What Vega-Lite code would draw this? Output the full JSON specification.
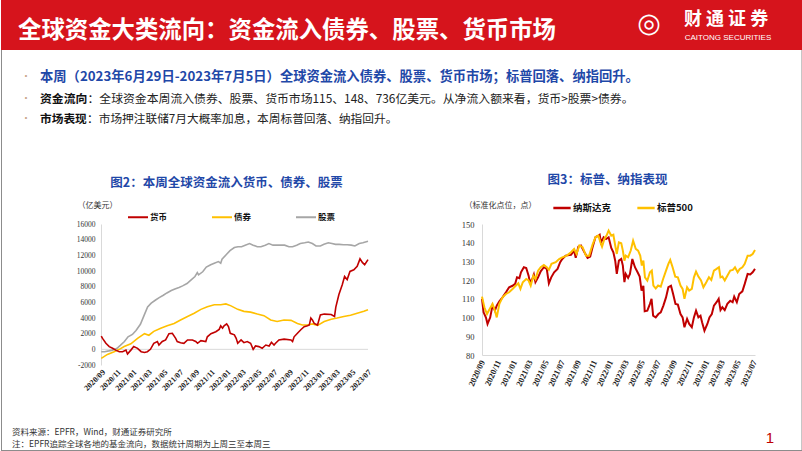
{
  "$schema": "https://vega.github.io/schema/vega-lite/v6.json",
  "padding": 0,
  "spacing": 0,
  "bounds": "flush",
  "align": "each",
  "background": "white",
  "resolve": {"scale": {"color": "independent"}, "legend": {"color": "independent"}},
  "config": {
    "view": {"stroke": null},
    "font": "Noto Sans CJK SC",
    "text": {"font": "Noto Sans CJK SC"}
  },
  "vconcat": [
    {
      "width": 802,
      "height": 50,
      "view": {"fill": "#d6141c", "stroke": null},
      "data": {"values": [{"title": "全球资金大类流向：资金流入债券、股票、货币市场", "icon": "◎", "brand": "财 通 证 券", "en": "CAITONG SECURITIES"}]},
      "layer": [
        {"mark": {"type": "text", "align": "left", "baseline": "middle", "fontSize": 23.4, "fontWeight": "bold", "color": "white"},
         "encoding": {"text": {"field": "title"}, "x": {"value": 17}, "y": {"value": 31}}},
        {"mark": {"type": "text", "align": "center", "baseline": "middle", "fontSize": 27, "font": "DejaVu Sans", "color": "white"},
         "encoding": {"text": {"field": "icon"}, "x": {"value": 648}, "y": {"value": 24}}},
        {"mark": {"type": "text", "align": "center", "baseline": "middle", "fontSize": 18, "fontWeight": "bold", "color": "white"},
         "encoding": {"text": {"field": "brand"}, "x": {"value": 725}, "y": {"value": 20}}},
        {"mark": {"type": "text", "align": "center", "baseline": "middle", "fontSize": 8, "font": "Liberation Sans", "color": "white"},
         "encoding": {"text": {"field": "en"}, "x": {"value": 727}, "y": {"value": 38}}}
      ]
    },
    {
      "width": 802,
      "height": 174,
      "data": {"values": [{
        "b": "•",
        "l1": "本周（2023年6月29日-2023年7月5日）全球资金流入债券、股票、货币市场；标普回落、纳指回升。",
        "l2a": "资金流向",
        "l2b": "：全球资金本周流入债券、股票、货币市场115、148、736亿美元。从净流入额来看，货币>股票>债券。",
        "l3a": "市场表现",
        "l3b": "：市场押注联储7月大概率加息，本周标普回落、纳指回升。"
      }]},
      "layer": [
        {"mark": {"type": "rule", "color": "#8c8c8c", "strokeWidth": 1},
         "encoding": {"x": {"value": 0.5}, "y": {"value": 0}, "y2": {"value": 174}}},
        {"mark": {"type": "rule", "color": "#8c8c8c", "strokeWidth": 1},
         "encoding": {"x": {"value": 801}, "y": {"value": 0}, "y2": {"value": 174}}},
        {"mark": {"type": "text", "align": "center", "baseline": "middle", "fontSize": 10, "color": "#c9a48c"},
         "encoding": {"text": {"field": "b"}, "x": {"value": 25}, "y": {"value": 27}}},
        {"mark": {"type": "text", "align": "center", "baseline": "middle", "fontSize": 10, "color": "#c9a48c"},
         "encoding": {"text": {"field": "b"}, "x": {"value": 25}, "y": {"value": 49}}},
        {"mark": {"type": "text", "align": "center", "baseline": "middle", "fontSize": 10, "color": "#c9a48c"},
         "encoding": {"text": {"field": "b"}, "x": {"value": 25}, "y": {"value": 69}}},
        {"mark": {"type": "text", "align": "left", "baseline": "middle", "fontSize": 13.3, "fontWeight": "bold", "color": "#1f48a8"},
         "encoding": {"text": {"field": "l1"}, "x": {"value": 39}, "y": {"value": 27}}},
        {"mark": {"type": "text", "align": "left", "baseline": "middle", "fontSize": 11.85, "fontWeight": "bold", "color": "#111111"},
         "encoding": {"text": {"field": "l2a"}, "x": {"value": 39}, "y": {"value": 49}}},
        {"mark": {"type": "text", "align": "left", "baseline": "middle", "fontSize": 11.85, "color": "#222222"},
         "encoding": {"text": {"field": "l2b"}, "x": {"value": 86.5}, "y": {"value": 49}}},
        {"mark": {"type": "text", "align": "left", "baseline": "middle", "fontSize": 11.7, "fontWeight": "bold", "color": "#111111"},
         "encoding": {"text": {"field": "l3a"}, "x": {"value": 39}, "y": {"value": 69}}},
        {"mark": {"type": "text", "align": "left", "baseline": "middle", "fontSize": 11.7, "color": "#222222"},
         "encoding": {"text": {"field": "l3b"}, "x": {"value": 86}, "y": {"value": 69}}}
      ]
    },
    {
      "spacing": 0,
      "bounds": "flush",
      "align": "each",
      "resolve": {"scale": {"color": "independent"}, "legend": {"color": "independent"}},
      "hconcat": [
        {
          "width": 100, "height": 141,
          "data": {"values": [{"s1": "资料来源：EPFR，Wind，财通证券研究所", "s2": "注：EPFR追踪全球各地的基金流向，数据统计周期为上周三至本周三"}]},
          "layer": [
            {"mark": {"type": "rule", "color": "#8c8c8c", "strokeWidth": 1},
             "encoding": {"x": {"value": 0.5}, "y": {"value": 0}, "y2": {"value": 226.5}}},
            {"mark": {"type": "rule", "color": "#8c8c8c", "strokeWidth": 1},
             "encoding": {"x": {"value": 0}, "x2": {"value": 802}, "y": {"value": 226.5}}},
            {"mark": {"type": "text", "align": "left", "baseline": "middle", "fontSize": 8.5, "color": "#333333"},
             "encoding": {"text": {"field": "s1"}, "x": {"value": 11}, "y": {"value": 208}}},
            {"mark": {"type": "text", "align": "left", "baseline": "middle", "fontSize": 8.5, "color": "#333333"},
             "encoding": {"text": {"field": "s2"}, "x": {"value": 11}, "y": {"value": 219.5}}}
          ]
        },
        {
          "width": 267,
          "height": 141,
          "title": {"text": "图2：本周全球资金流入货币、债券、股票", "frame": "group", "anchor": "middle", "dx": -8, "offset": 12, "fontSize": 12.5, "fontWeight": "bold", "color": "#1f48a8"},
          "encoding": {
            "y": {"field": "value", "type": "quantitative",
                  "scale": {"domain": [-2000, 16000], "nice": false, "zero": false},
                  "axis": {"values": [-2000, 0, 2000, 4000, 6000, 8000, 10000, 12000, 14000, 16000],
                           "labelExpr": "'' + datum.value", "labelFont": "Liberation Serif", "labelFontSize": 7.5, "labelColor": "#333333",
                           "ticks": false, "grid": false, "domainColor": "#d9d9d9", "labelPadding": 6,
                           "title": "（亿美元）", "titleAngle": 0, "titleX": -4, "titleY": -19, "titleAlign": "center", "titleBaseline": "middle",
                           "titleFontSize": 8, "titleFontWeight": "normal", "titleColor": "#333333"}}
          },
          "layer": [
            {"data": {"values": [{"value": 0}]}, "mark": {"type": "rule", "color": "#d9d9d9", "strokeWidth": 1}},
            {
              "data": {"values": [
{"date":"2020-09-02","series":"股票","value":-300},{"date":"2020-09-15","series":"股票","value":-300},{"date":"2020-10-01","series":"股票","value":-200},{"date":"2020-10-15","series":"股票","value":-100},{"date":"2020-11-01","series":"股票","value":100},{"date":"2020-11-15","series":"股票","value":500},{"date":"2020-12-01","series":"股票","value":1000},{"date":"2020-12-15","series":"股票","value":1600},{"date":"2021-01-01","series":"股票","value":1900},{"date":"2021-01-15","series":"股票","value":2400},{"date":"2021-02-01","series":"股票","value":3200},{"date":"2021-02-15","series":"股票","value":4300},{"date":"2021-03-01","series":"股票","value":5400},{"date":"2021-03-15","series":"股票","value":5900},{"date":"2021-04-01","series":"股票","value":6300},{"date":"2021-04-15","series":"股票","value":6600},{"date":"2021-05-01","series":"股票","value":6900},{"date":"2021-05-15","series":"股票","value":7200},{"date":"2021-06-01","series":"股票","value":7500},{"date":"2021-06-15","series":"股票","value":7700},{"date":"2021-07-01","series":"股票","value":7900},{"date":"2021-07-15","series":"股票","value":8100},{"date":"2021-08-01","series":"股票","value":8400},{"date":"2021-08-15","series":"股票","value":8800},{"date":"2021-09-01","series":"股票","value":9300},{"date":"2021-09-10","series":"股票","value":9800},{"date":"2021-09-15","series":"股票","value":9500},{"date":"2021-10-01","series":"股票","value":9900},{"date":"2021-10-15","series":"股票","value":10500},{"date":"2021-11-01","series":"股票","value":10800},{"date":"2021-11-15","series":"股票","value":11000},{"date":"2021-12-01","series":"股票","value":11200},{"date":"2021-12-10","series":"股票","value":11000},{"date":"2021-12-15","series":"股票","value":11500},{"date":"2022-01-01","series":"股票","value":12100},{"date":"2022-01-15","series":"股票","value":12600},{"date":"2022-02-01","series":"股票","value":13000},{"date":"2022-02-15","series":"股票","value":13100},{"date":"2022-03-01","series":"股票","value":13100},{"date":"2022-03-15","series":"股票","value":13300},{"date":"2022-04-01","series":"股票","value":13500},{"date":"2022-04-15","series":"股票","value":13300},{"date":"2022-05-01","series":"股票","value":13100},{"date":"2022-05-15","series":"股票","value":13100},{"date":"2022-06-01","series":"股票","value":13300},{"date":"2022-06-15","series":"股票","value":13500},{"date":"2022-07-01","series":"股票","value":13300},{"date":"2022-07-15","series":"股票","value":13300},{"date":"2022-08-01","series":"股票","value":13300},{"date":"2022-08-15","series":"股票","value":13300},{"date":"2022-09-01","series":"股票","value":13100},{"date":"2022-09-15","series":"股票","value":13100},{"date":"2022-10-01","series":"股票","value":13300},{"date":"2022-10-15","series":"股票","value":13500},{"date":"2022-11-01","series":"股票","value":13600},{"date":"2022-11-15","series":"股票","value":13700},{"date":"2022-12-01","series":"股票","value":13500},{"date":"2022-12-15","series":"股票","value":13200},{"date":"2023-01-01","series":"股票","value":13200},{"date":"2023-01-15","series":"股票","value":13400},{"date":"2023-02-01","series":"股票","value":13600},{"date":"2023-02-15","series":"股票","value":13500},{"date":"2023-03-01","series":"股票","value":13400},{"date":"2023-03-15","series":"股票","value":13400},{"date":"2023-04-01","series":"股票","value":13350},{"date":"2023-04-15","series":"股票","value":13350},{"date":"2023-05-01","series":"股票","value":13300},{"date":"2023-05-15","series":"股票","value":13200},{"date":"2023-06-01","series":"股票","value":13500},{"date":"2023-06-15","series":"股票","value":13600},{"date":"2023-07-05","series":"股票","value":13800},
{"date":"2020-09-02","series":"债券","value":-1150},{"date":"2020-09-26","series":"债券","value":-650},{"date":"2020-10-22","series":"债券","value":-300},{"date":"2020-11-11","series":"债券","value":0},{"date":"2020-11-30","series":"债券","value":350},{"date":"2020-12-26","series":"债券","value":700},{"date":"2021-01-21","series":"债券","value":1400},{"date":"2021-02-17","series":"债券","value":2000},{"date":"2021-03-06","series":"债券","value":1800},{"date":"2021-03-25","series":"债券","value":2300},{"date":"2021-04-21","series":"债券","value":2700},{"date":"2021-05-16","series":"债券","value":3000},{"date":"2021-06-12","series":"债券","value":3300},{"date":"2021-07-07","series":"债券","value":3750},{"date":"2021-08-03","series":"债券","value":4200},{"date":"2021-08-29","series":"债券","value":4600},{"date":"2021-09-24","series":"债券","value":5100},{"date":"2021-10-19","series":"债券","value":5450},{"date":"2021-11-15","series":"债券","value":5700},{"date":"2021-12-10","series":"债券","value":5700},{"date":"2021-12-30","series":"债券","value":5800},{"date":"2022-01-19","series":"债券","value":5550},{"date":"2022-02-14","series":"债券","value":5100},{"date":"2022-03-10","series":"债券","value":4850},{"date":"2022-04-05","series":"债券","value":4750},{"date":"2022-05-01","series":"债券","value":4500},{"date":"2022-05-27","series":"债券","value":4300},{"date":"2022-06-22","series":"债券","value":3750},{"date":"2022-07-17","series":"债券","value":3550},{"date":"2022-08-13","series":"债券","value":3750},{"date":"2022-09-09","series":"债券","value":3700},{"date":"2022-10-04","series":"债券","value":3300},{"date":"2022-10-23","series":"债券","value":3100},{"date":"2022-11-12","series":"债券","value":3100},{"date":"2022-12-01","series":"债券","value":3250},{"date":"2022-12-21","series":"债券","value":3050},{"date":"2023-01-16","series":"债券","value":3550},{"date":"2023-02-12","series":"债券","value":3850},{"date":"2023-03-07","series":"债券","value":4000},{"date":"2023-04-02","series":"债券","value":4200},{"date":"2023-04-28","series":"债券","value":4350},{"date":"2023-05-24","series":"债券","value":4600},{"date":"2023-06-19","series":"债券","value":4850},{"date":"2023-07-05","series":"债券","value":5050},
{"date":"2020-09-02","series":"货币","value":1700},{"date":"2020-09-07","series":"货币","value":1400},{"date":"2020-09-20","series":"货币","value":770},{"date":"2020-10-03","series":"货币","value":350},{"date":"2020-10-16","series":"货币","value":130},{"date":"2020-10-28","series":"货币","value":-100},{"date":"2020-11-11","series":"货币","value":-300},{"date":"2020-11-24","series":"货币","value":-300},{"date":"2020-12-07","series":"货币","value":-100},{"date":"2020-12-13","series":"货币","value":-600},{"date":"2020-12-26","series":"货币","value":-100},{"date":"2021-01-06","series":"货币","value":350},{"date":"2021-01-21","series":"货币","value":130},{"date":"2021-02-04","series":"货币","value":-300},{"date":"2021-02-17","series":"货币","value":-400},{"date":"2021-02-28","series":"货币","value":-300},{"date":"2021-03-12","series":"货币","value":0},{"date":"2021-03-25","series":"货币","value":770},{"date":"2021-04-08","series":"货币","value":1000},{"date":"2021-04-14","series":"货币","value":550},{"date":"2021-04-27","series":"货币","value":1000},{"date":"2021-05-10","series":"货币","value":1200},{"date":"2021-05-23","series":"货币","value":2000},{"date":"2021-06-05","series":"货币","value":2050},{"date":"2021-06-18","series":"货币","value":1400},{"date":"2021-06-24","series":"货币","value":1000},{"date":"2021-07-07","series":"货币","value":850},{"date":"2021-07-20","series":"货币","value":770},{"date":"2021-08-03","series":"货币","value":1200},{"date":"2021-08-22","series":"货币","value":1200},{"date":"2021-09-04","series":"货币","value":1000},{"date":"2021-09-11","series":"货币","value":770},{"date":"2021-09-24","series":"货币","value":1100},{"date":"2021-10-13","series":"货币","value":1000},{"date":"2021-10-19","series":"货币","value":1600},{"date":"2021-11-02","series":"货币","value":2000},{"date":"2021-11-21","series":"货币","value":2250},{"date":"2021-12-04","series":"货币","value":2550},{"date":"2021-12-10","series":"货币","value":3000},{"date":"2021-12-17","series":"货币","value":2700},{"date":"2021-12-23","series":"货币","value":3000},{"date":"2022-01-02","series":"货币","value":3250},{"date":"2022-01-09","series":"货币","value":2900},{"date":"2022-01-16","series":"货币","value":2050},{"date":"2022-02-01","series":"货币","value":1850},{"date":"2022-02-08","series":"货币","value":1400},{"date":"2022-02-14","series":"货币","value":770},{"date":"2022-02-27","series":"货币","value":1200},{"date":"2022-03-10","series":"货币","value":850},{"date":"2022-03-23","series":"货币","value":1000},{"date":"2022-04-05","series":"货币","value":770},{"date":"2022-04-15","series":"货币","value":0},{"date":"2022-04-24","series":"货币","value":430},{"date":"2022-05-07","series":"货币","value":350},{"date":"2022-05-20","series":"货币","value":130},{"date":"2022-06-03","series":"货币","value":550},{"date":"2022-06-16","series":"货币","value":430},{"date":"2022-06-25","series":"货币","value":900},{"date":"2022-07-05","series":"货币","value":550},{"date":"2022-07-11","series":"货币","value":770},{"date":"2022-07-24","series":"货币","value":1200},{"date":"2022-08-13","series":"货币","value":1300},{"date":"2022-09-09","series":"货币","value":1200},{"date":"2022-09-15","series":"货币","value":1000},{"date":"2022-09-21","series":"货币","value":1600},{"date":"2022-10-04","series":"货币","value":2050},{"date":"2022-10-17","series":"货币","value":2500},{"date":"2022-10-30","series":"货币","value":2900},{"date":"2022-11-12","series":"货币","value":3000},{"date":"2022-11-19","series":"货币","value":3100},{"date":"2022-11-25","series":"货币","value":4000},{"date":"2022-12-01","series":"货币","value":3750},{"date":"2022-12-08","series":"货币","value":3300},{"date":"2022-12-21","series":"货币","value":3100},{"date":"2023-01-01","series":"货币","value":4400},{"date":"2023-01-16","series":"货币","value":4500},{"date":"2023-02-12","series":"货币","value":4450},{"date":"2023-02-25","series":"货币","value":4200},{"date":"2023-03-02","series":"货币","value":5400},{"date":"2023-03-14","series":"货币","value":7000},{"date":"2023-03-27","series":"货币","value":8250},{"date":"2023-04-05","series":"货币","value":9300},{"date":"2023-04-15","series":"货币","value":8900},{"date":"2023-04-26","series":"货币","value":9950},{"date":"2023-05-11","series":"货币","value":10150},{"date":"2023-05-24","series":"货币","value":10600},{"date":"2023-06-04","series":"货币","value":11550},{"date":"2023-06-13","series":"货币","value":11100},{"date":"2023-06-22","series":"货币","value":10800},{"date":"2023-07-05","series":"货币","value":11450}
              ]},
              "encoding": {
                "x": {"field": "date", "type": "temporal",
                      "scale": {"type": "utc", "domain": [{"year": 2020, "month": 9, "date": 1, "utc": true}, {"year": 2023, "month": 7, "date": 5, "utc": true}]},
                      "axis": {"values": [
                        {"year":2020,"month":9,"date":1,"utc":true},{"year":2020,"month":11,"date":1,"utc":true},
                        {"year":2021,"month":1,"date":1,"utc":true},{"year":2021,"month":3,"date":1,"utc":true},{"year":2021,"month":5,"date":1,"utc":true},{"year":2021,"month":7,"date":1,"utc":true},{"year":2021,"month":9,"date":1,"utc":true},{"year":2021,"month":11,"date":1,"utc":true},
                        {"year":2022,"month":1,"date":1,"utc":true},{"year":2022,"month":3,"date":1,"utc":true},{"year":2022,"month":5,"date":1,"utc":true},{"year":2022,"month":7,"date":1,"utc":true},{"year":2022,"month":9,"date":1,"utc":true},{"year":2022,"month":11,"date":1,"utc":true},
                        {"year":2023,"month":1,"date":1,"utc":true},{"year":2023,"month":3,"date":1,"utc":true},{"year":2023,"month":5,"date":1,"utc":true},{"year":2023,"month":7,"date":1,"utc":true}],
                        "format": "%Y/%m", "labelAngle": -45, "labelFont": "Liberation Serif", "labelFontWeight": "bold", "labelFontSize": 8, "labelColor": "#222222",
                        "labelOverlap": false, "ticks": false, "domain": false, "grid": false, "labelPadding": 3, "title": null}},
                "color": {"field": "series", "type": "nominal",
                          "scale": {"domain": ["货币", "债券", "股票"], "range": ["#c00000", "#ffc000", "#a6a6a6"]},
                          "legend": {"orient": "none", "legendX": 26, "legendY": -18, "direction": "horizontal", "title": null,
                                     "symbolType": "stroke", "symbolSize": 400, "symbolStrokeWidth": 2, "labelFontSize": 8.5, "labelFontWeight": "bold", "labelColor": "#111111",
                                     "columnPadding": 40, "labelOffset": 1, "padding": 0}}
              },
              "layer": [
                {"transform": [{"filter": "datum.series === '股票'"}], "mark": {"type": "line", "strokeWidth": 1.6}},
                {"transform": [{"filter": "datum.series === '债券'"}], "mark": {"type": "line", "strokeWidth": 1.6}},
                {"transform": [{"filter": "datum.series === '货币'"}], "mark": {"type": "line", "strokeWidth": 1.6}}
              ]
            }
          ]
        },
        {"width": 114, "height": 141, "data": {"values": []}, "mark": "point", "encoding": {}},
        {
          "width": 273,
          "height": 131,
          "title": {"text": "图3：标普、纳指表现", "frame": "group", "anchor": "middle", "dx": -11, "offset": 12, "fontSize": 12.5, "fontWeight": "bold", "color": "#1f48a8"},
          "data": {"values": [
{"date":"2020-09-01","series":"纳斯达克","value":110},{"date":"2020-09-07","series":"纳斯达克","value":102.8},{"date":"2020-09-16","series":"纳斯达克","value":100},{"date":"2020-09-22","series":"纳斯达克","value":96.6},{"date":"2020-10-02","series":"纳斯达克","value":100},{"date":"2020-10-11","series":"纳斯达克","value":106.5},{"date":"2020-10-20","series":"纳斯达克","value":103.7},{"date":"2020-10-27","series":"纳斯达克","value":106.4},{"date":"2020-11-06","series":"纳斯达克","value":108.7},{"date":"2020-11-18","series":"纳斯达克","value":110.8},{"date":"2020-12-01","series":"纳斯达克","value":113.5},{"date":"2020-12-13","series":"纳斯达克","value":116.2},{"date":"2020-12-26","series":"纳斯达克","value":117},{"date":"2021-01-05","series":"纳斯达克","value":118},{"date":"2021-01-12","series":"纳斯达克","value":121.5},{"date":"2021-01-21","series":"纳斯达克","value":121},{"date":"2021-01-27","series":"纳斯达克","value":124.2},{"date":"2021-02-07","series":"纳斯达克","value":126.9},{"date":"2021-02-16","series":"纳斯达克","value":126.5},{"date":"2021-02-25","series":"纳斯达克","value":122.4},{"date":"2021-03-02","series":"纳斯达克","value":118.9},{"date":"2021-03-11","series":"纳斯达克","value":120.6},{"date":"2021-03-17","series":"纳斯达克","value":123},{"date":"2021-03-23","series":"纳斯达克","value":118.9},{"date":"2021-04-02","series":"纳斯达克","value":121.5},{"date":"2021-04-12","series":"纳斯达克","value":124.7},{"date":"2021-04-24","series":"纳斯达克","value":126.9},{"date":"2021-05-05","series":"纳斯达克","value":126},{"date":"2021-05-13","series":"纳斯达克","value":118.3},{"date":"2021-05-22","series":"纳斯达克","value":121.5},{"date":"2021-06-02","series":"纳斯达克","value":124.2},{"date":"2021-06-15","series":"纳斯达克","value":126},{"date":"2021-06-25","series":"纳斯达克","value":129.6},{"date":"2021-07-03","series":"纳斯达克","value":131.3},{"date":"2021-07-16","series":"纳斯达克","value":133.1},{"date":"2021-08-05","series":"纳斯达克","value":133.5},{"date":"2021-08-17","series":"纳斯达克","value":135.8},{"date":"2021-08-23","series":"纳斯达克","value":131.9},{"date":"2021-09-02","series":"纳斯达克","value":137.9},{"date":"2021-09-12","series":"纳斯达克","value":138.5},{"date":"2021-09-25","series":"纳斯达克","value":134.9},{"date":"2021-10-07","series":"纳斯达克","value":131.9},{"date":"2021-10-17","series":"纳斯达克","value":132.6},{"date":"2021-10-26","series":"纳斯达克","value":137.6},{"date":"2021-11-06","series":"纳斯达克","value":142.9},{"date":"2021-11-15","series":"纳斯达克","value":143.6},{"date":"2021-11-22","series":"纳斯达克","value":144.3},{"date":"2021-11-27","series":"纳斯达克","value":140.2},{"date":"2021-12-07","series":"纳斯达克","value":142.9},{"date":"2021-12-16","series":"纳斯达克","value":142},{"date":"2021-12-26","series":"纳斯达克","value":142.9},{"date":"2022-01-05","series":"纳斯达克","value":137.2},{"date":"2022-01-13","series":"纳斯达克","value":134.9},{"date":"2022-01-20","series":"纳斯达克","value":130.4},{"date":"2022-01-26","series":"纳斯达克","value":123.3},{"date":"2022-02-03","series":"纳斯达克","value":130.4},{"date":"2022-02-12","series":"纳斯达克","value":131.3},{"date":"2022-02-18","series":"纳斯达克","value":127.8},{"date":"2022-02-24","series":"纳斯达克","value":118.9},{"date":"2022-03-01","series":"纳斯达克","value":123.3},{"date":"2022-03-10","series":"纳斯达克","value":121.2},{"date":"2022-03-17","series":"纳斯达克","value":123.3},{"date":"2022-03-26","series":"纳斯达克","value":131.3},{"date":"2022-04-05","series":"纳斯达克","value":126.9},{"date":"2022-04-15","series":"纳斯达克","value":124.2},{"date":"2022-04-23","series":"纳斯达克","value":121.9},{"date":"2022-04-30","series":"纳斯达克","value":114.4},{"date":"2022-05-07","series":"纳斯达克","value":117},{"date":"2022-05-12","series":"纳斯达克","value":103.4},{"date":"2022-05-22","series":"纳斯达克","value":103.7},{"date":"2022-06-01","series":"纳斯达克","value":107.3},{"date":"2022-06-07","series":"纳斯达克","value":110},{"date":"2022-06-13","series":"纳斯达克","value":101},{"date":"2022-06-23","series":"纳斯达克","value":100.1},{"date":"2022-07-03","series":"纳斯达克","value":101.9},{"date":"2022-07-12","series":"纳斯达克","value":102.8},{"date":"2022-07-22","series":"纳斯达克","value":106.4},{"date":"2022-08-01","series":"纳斯达克","value":110.8},{"date":"2022-08-10","series":"纳斯达克","value":116.2},{"date":"2022-08-20","series":"纳斯达克","value":117},{"date":"2022-08-28","series":"纳斯达克","value":112.6},{"date":"2022-09-06","series":"纳斯达克","value":107.3},{"date":"2022-09-15","series":"纳斯达克","value":106.9},{"date":"2022-09-25","series":"纳斯达克","value":101.9},{"date":"2022-10-03","series":"纳斯达克","value":100.1},{"date":"2022-10-10","series":"纳斯达克","value":94.8},{"date":"2022-10-20","series":"纳斯达克","value":99.3},{"date":"2022-10-28","series":"纳斯达克","value":96.6},{"date":"2022-11-07","series":"纳斯达克","value":94.8},{"date":"2022-11-15","series":"纳斯达克","value":100.1},{"date":"2022-11-23","series":"纳斯达克","value":103.7},{"date":"2022-12-02","series":"纳斯达克","value":100.1},{"date":"2022-12-10","series":"纳斯达克","value":101},{"date":"2022-12-16","series":"纳斯达克","value":97.5},{"date":"2022-12-25","series":"纳斯达克","value":93},{"date":"2023-01-05","series":"纳斯达克","value":96.6},{"date":"2023-01-13","series":"纳斯达克","value":100.1},{"date":"2023-01-22","series":"纳斯达克","value":101.9},{"date":"2023-01-30","series":"纳斯达克","value":106.4},{"date":"2023-02-09","series":"纳斯达克","value":108.2},{"date":"2023-02-17","series":"纳斯达克","value":110},{"date":"2023-02-24","series":"纳斯达克","value":104},{"date":"2023-03-03","series":"纳斯达克","value":105.5},{"date":"2023-03-12","series":"纳斯达克","value":104},{"date":"2023-03-22","series":"纳斯达克","value":107.3},{"date":"2023-04-02","series":"纳斯达克","value":109},{"date":"2023-04-11","series":"纳斯达克","value":108.2},{"date":"2023-04-17","series":"纳斯达克","value":111.2},{"date":"2023-04-27","series":"纳斯达克","value":108.2},{"date":"2023-05-06","series":"纳斯达克","value":112.6},{"date":"2023-05-18","series":"纳斯达克","value":114},{"date":"2023-05-27","series":"纳斯达克","value":118},{"date":"2023-06-07","series":"纳斯达克","value":123.3},{"date":"2023-06-17","series":"纳斯达克","value":123},{"date":"2023-06-26","series":"纳斯达克","value":124.2},{"date":"2023-07-05","series":"纳斯达克","value":126},
{"date":"2020-09-01","series":"标普500","value":111.2},{"date":"2020-09-10","series":"标普500","value":105.5},{"date":"2020-09-20","series":"标普500","value":101.9},{"date":"2020-09-28","series":"标普500","value":104},{"date":"2020-10-11","series":"标普500","value":107.3},{"date":"2020-10-20","series":"标普500","value":103.7},{"date":"2020-10-27","series":"标普500","value":100.1},{"date":"2020-11-06","series":"标普500","value":107.3},{"date":"2020-11-18","series":"标普500","value":110.8},{"date":"2020-12-01","series":"标普500","value":112.6},{"date":"2020-12-13","series":"标普500","value":113.5},{"date":"2020-12-26","series":"标普500","value":115.3},{"date":"2021-01-08","series":"标普500","value":117.1},{"date":"2021-01-17","series":"标普500","value":118.3},{"date":"2021-01-25","series":"标普500","value":115.3},{"date":"2021-02-03","series":"标普500","value":118.9},{"date":"2021-02-16","series":"标普500","value":120.6},{"date":"2021-02-25","series":"标普500","value":119.8},{"date":"2021-03-05","series":"标普500","value":117.1},{"date":"2021-03-15","series":"标普500","value":122.4},{"date":"2021-03-23","series":"标普500","value":120.6},{"date":"2021-04-02","series":"标普500","value":125.1},{"date":"2021-04-12","series":"标普500","value":126.9},{"date":"2021-04-24","series":"标普500","value":128.1},{"date":"2021-05-05","series":"标普500","value":126.9},{"date":"2021-05-13","series":"标普500","value":125.5},{"date":"2021-05-23","series":"标普500","value":128.7},{"date":"2021-06-08","series":"标普500","value":129.6},{"date":"2021-06-21","series":"标普500","value":131.3},{"date":"2021-07-03","series":"标普500","value":132.2},{"date":"2021-07-20","series":"标普500","value":133.1},{"date":"2021-08-05","series":"标普500","value":134.9},{"date":"2021-08-17","series":"标普500","value":136.7},{"date":"2021-08-26","series":"标普500","value":134},{"date":"2021-09-06","series":"标普500","value":138.5},{"date":"2021-09-18","series":"标普500","value":137.6},{"date":"2021-10-01","series":"标普500","value":133.1},{"date":"2021-10-13","series":"标普500","value":133.1},{"date":"2021-10-26","series":"标普500","value":139},{"date":"2021-11-06","series":"标普500","value":142.9},{"date":"2021-11-17","series":"标普500","value":143.8},{"date":"2021-11-25","series":"标普500","value":140.2},{"date":"2021-12-01","series":"标普500","value":137.9},{"date":"2021-12-10","series":"标普500","value":142},{"date":"2021-12-18","series":"标普500","value":143.8},{"date":"2021-12-26","series":"标普500","value":146.5},{"date":"2022-01-05","series":"标普500","value":143.8},{"date":"2022-01-13","series":"标普500","value":144.3},{"date":"2022-01-20","series":"标普500","value":138.5},{"date":"2022-01-26","series":"标普500","value":134},{"date":"2022-02-03","series":"标普500","value":140.2},{"date":"2022-02-12","series":"标普500","value":139.7},{"date":"2022-02-18","series":"标普500","value":135.8},{"date":"2022-02-24","series":"标普500","value":130.4},{"date":"2022-03-01","series":"标普500","value":133.1},{"date":"2022-03-10","series":"标普500","value":132.2},{"date":"2022-03-20","series":"标普500","value":135.8},{"date":"2022-03-29","series":"标普500","value":141.1},{"date":"2022-04-08","series":"标普500","value":136.7},{"date":"2022-04-17","series":"标普500","value":135.8},{"date":"2022-04-25","series":"标普500","value":133.1},{"date":"2022-05-01","series":"标普500","value":127.8},{"date":"2022-05-07","series":"标普500","value":130.4},{"date":"2022-05-13","series":"标普500","value":121.5},{"date":"2022-05-22","series":"标普500","value":119.8},{"date":"2022-06-01","series":"标普500","value":124.2},{"date":"2022-06-08","series":"标普500","value":125.1},{"date":"2022-06-14","series":"标普500","value":117.1},{"date":"2022-06-23","series":"标普500","value":115.6},{"date":"2022-07-02","series":"标普500","value":117.1},{"date":"2022-07-12","series":"标普500","value":116.5},{"date":"2022-07-21","series":"标普500","value":120.6},{"date":"2022-08-01","series":"标普500","value":125.1},{"date":"2022-08-10","series":"标普500","value":128.7},{"date":"2022-08-17","series":"标普500","value":130.8},{"date":"2022-08-26","series":"标普500","value":126.9},{"date":"2022-09-05","series":"标普500","value":121.9},{"date":"2022-09-15","series":"标普500","value":121.5},{"date":"2022-09-25","series":"标普500","value":117.1},{"date":"2022-10-03","series":"标普500","value":115.3},{"date":"2022-10-10","series":"标普500","value":110},{"date":"2022-10-20","series":"标普500","value":116.2},{"date":"2022-10-28","series":"标普500","value":114.4},{"date":"2022-11-07","series":"标普500","value":115.3},{"date":"2022-11-15","series":"标普500","value":121.5},{"date":"2022-11-23","series":"标普500","value":124.6},{"date":"2022-12-02","series":"标普500","value":121.9},{"date":"2022-12-12","series":"标普500","value":119.8},{"date":"2022-12-21","series":"标普500","value":116.2},{"date":"2023-01-01","series":"标普500","value":118.9},{"date":"2023-01-11","series":"标普500","value":121.5},{"date":"2023-01-20","series":"标普500","value":120.1},{"date":"2023-01-30","series":"标普500","value":125.1},{"date":"2023-02-09","series":"标普500","value":126},{"date":"2023-02-18","series":"标普500","value":126.9},{"date":"2023-02-24","series":"标普500","value":121.5},{"date":"2023-03-03","series":"标普500","value":121.9},{"date":"2023-03-12","series":"标普500","value":119.8},{"date":"2023-03-22","series":"标普500","value":122.4},{"date":"2023-04-02","series":"标普500","value":125.1},{"date":"2023-04-12","series":"标普500","value":125.5},{"date":"2023-04-20","series":"标普500","value":126.9},{"date":"2023-04-30","series":"标普500","value":124.2},{"date":"2023-05-08","series":"标普500","value":126},{"date":"2023-05-18","series":"标普500","value":126.9},{"date":"2023-05-27","series":"标普500","value":128.7},{"date":"2023-06-07","series":"标普500","value":133.1},{"date":"2023-06-17","series":"标普500","value":133.1},{"date":"2023-06-26","series":"标普500","value":134},{"date":"2023-07-05","series":"标普500","value":136.1}
          ]},
          "encoding": {
            "x": {"field": "date", "type": "temporal",
                  "scale": {"type": "utc", "domain": [{"year": 2020, "month": 9, "date": 1, "utc": true}, {"year": 2023, "month": 7, "date": 5, "utc": true}]},
                  "axis": {"values": [
                    {"year":2020,"month":9,"date":1,"utc":true},{"year":2020,"month":11,"date":1,"utc":true},
                    {"year":2021,"month":1,"date":1,"utc":true},{"year":2021,"month":3,"date":1,"utc":true},{"year":2021,"month":5,"date":1,"utc":true},{"year":2021,"month":7,"date":1,"utc":true},{"year":2021,"month":9,"date":1,"utc":true},{"year":2021,"month":11,"date":1,"utc":true},
                    {"year":2022,"month":1,"date":1,"utc":true},{"year":2022,"month":3,"date":1,"utc":true},{"year":2022,"month":5,"date":1,"utc":true},{"year":2022,"month":7,"date":1,"utc":true},{"year":2022,"month":9,"date":1,"utc":true},{"year":2022,"month":11,"date":1,"utc":true},
                    {"year":2023,"month":1,"date":1,"utc":true},{"year":2023,"month":3,"date":1,"utc":true},{"year":2023,"month":5,"date":1,"utc":true},{"year":2023,"month":7,"date":1,"utc":true}],
                    "format": "%Y/%m", "labelAngle": -65, "labelFont": "Liberation Serif", "labelFontWeight": "bold", "labelFontSize": 8.5, "labelColor": "#222222",
                    "labelOverlap": false, "ticks": false, "domain": true, "domainColor": "#d9d9d9", "grid": false, "labelPadding": 5, "title": null}},
            "y": {"field": "value", "type": "quantitative",
                  "scale": {"domain": [80, 150], "nice": false, "zero": false},
                  "axis": {"values": [80, 90, 100, 110, 120, 130, 140, 150],
                           "labelFont": "Liberation Serif", "labelFontSize": 8.5, "labelColor": "#333333",
                           "ticks": false, "grid": false, "domainColor": "#d9d9d9", "labelPadding": 8,
                           "title": "（标准化点位，点）", "titleAngle": 0, "titleX": 18, "titleY": -19, "titleAlign": "center", "titleBaseline": "middle",
                           "titleFontSize": 8, "titleFontWeight": "normal", "titleColor": "#333333"}},
            "color": {"field": "series", "type": "nominal",
                      "scale": {"domain": ["纳斯达克", "标普500"], "range": ["#c00000", "#ffc000"]},
                      "legend": {"orient": "none", "legendX": 70, "legendY": -26, "direction": "horizontal", "title": null,
                                 "symbolType": "stroke", "symbolSize": 300, "symbolStrokeWidth": 2.5, "labelFontSize": 9.5, "labelFontWeight": "bold", "labelColor": "#111111",
                                 "columnPadding": 20, "labelOffset": 1, "padding": 0}}
          },
          "layer": [
            {"transform": [{"filter": "datum.series === '纳斯达克'"}], "mark": {"type": "line", "strokeWidth": 2}},
            {"transform": [{"filter": "datum.series === '标普500'"}], "mark": {"type": "line", "strokeWidth": 2}}
          ]
        },
        {
          "width": 48, "height": 141,
          "data": {"values": [{"p": "1"}]},
          "layer": [
            {"mark": {"type": "rule", "color": "#8c8c8c", "strokeWidth": 1},
             "encoding": {"x": {"value": 47}, "y": {"value": 0}, "y2": {"value": 226.5}}},
            {"mark": {"type": "text", "align": "center", "baseline": "middle", "fontSize": 15, "font": "Liberation Sans", "color": "#c00000"},
             "encoding": {"text": {"field": "p"}, "x": {"value": 15}, "y": {"value": 214}}}
          ]
        }
      ]
    }
  ]
}
